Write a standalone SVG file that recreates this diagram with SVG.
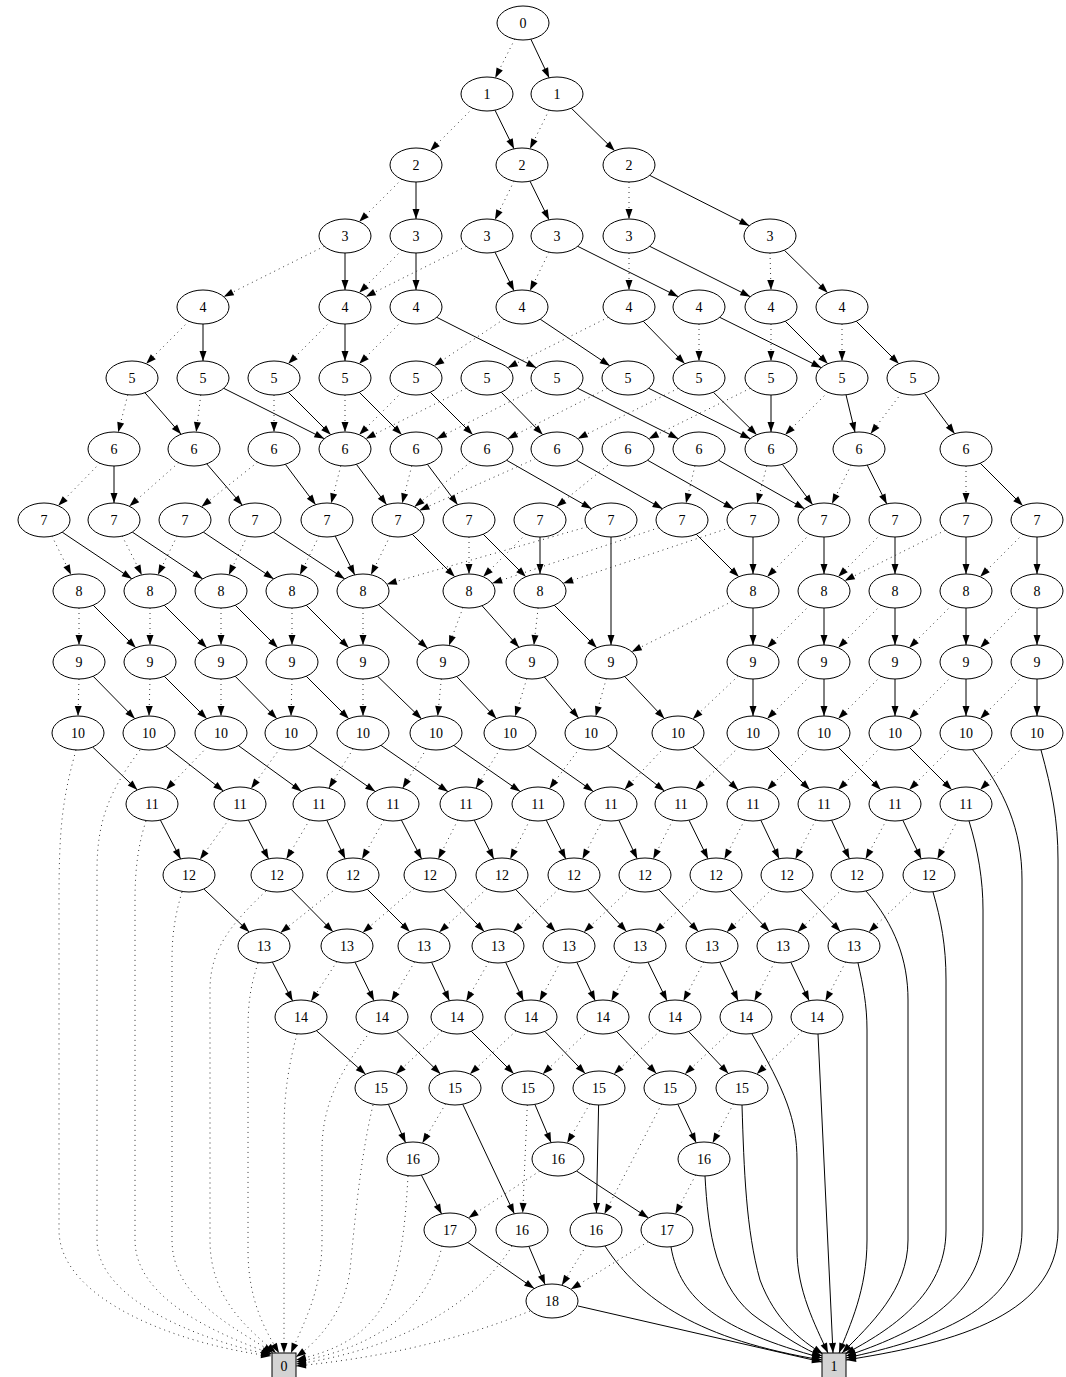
<svg xmlns="http://www.w3.org/2000/svg" width="1066" height="1377" viewBox="0 0 1066 1377">
<defs>
<marker id="a" markerWidth="10" markerHeight="7" refX="10" refY="3.5" orient="auto" markerUnits="userSpaceOnUse" overflow="visible"><path d="M0,0 L10,3.5 L0,7 z" fill="#000" stroke="none"/></marker>
<style>
.s{fill:none;stroke:#000;stroke-width:1;marker-end:url(#a)}
.d{fill:none;stroke:#333;stroke-width:1;stroke-dasharray:1 4;marker-end:url(#a)}
.n ellipse{fill:#fff;stroke:#000;stroke-width:1}
.t rect{fill:#d3d3d3;stroke:#000;stroke-width:1}
text{font-family:"Liberation Serif","Times New Roman",serif;font-size:14px;text-anchor:middle;fill:#000}
</style>
</defs>
<rect width="1066" height="1377" fill="#fff"/>
<g id="edges">
<path class="d" d="M514.8,39.1 L495.2,77.9"/>
<path class="s" d="M530.8,39.1 L549.2,77.9"/>
<path class="d" d="M472.8,108.2 L430.2,150.8"/>
<path class="s" d="M495,110.2 L514,148.8"/>
<path class="d" d="M549,110.2 L530,148.8"/>
<path class="s" d="M571.3,108.2 L614.7,150.8"/>
<path class="d" d="M401.8,179.2 L359.2,221.8"/>
<path class="s" d="M416,182 L416,219"/>
<path class="d" d="M514,181.2 L495,219.8"/>
<path class="s" d="M530,181.2 L549,219.8"/>
<path class="d" d="M629,182 L629,219"/>
<path class="s" d="M649.7,175.3 L749.3,225.7"/>
<path class="d" d="M324.3,246.3 L223.7,296.7"/>
<path class="s" d="M345,253 L345,290"/>
<path class="d" d="M401.8,250.2 L359.2,292.8"/>
<path class="s" d="M416,253 L416,290"/>
<path class="d" d="M466.3,246.3 L365.7,296.7"/>
<path class="s" d="M495,252.2 L514,290.8"/>
<path class="d" d="M549,252.2 L530,290.8"/>
<path class="s" d="M577.7,246.3 L678.3,296.7"/>
<path class="d" d="M629,253 L629,290"/>
<path class="s" d="M649.7,246.3 L750.3,296.7"/>
<path class="d" d="M770,253 L771,290"/>
<path class="s" d="M784.3,250.2 L827.7,292.8"/>
<path class="d" d="M188.8,321.2 L146.2,363.8"/>
<path class="s" d="M203,324 L203,361"/>
<path class="d" d="M330.8,321.2 L288.2,363.8"/>
<path class="s" d="M345,324 L345,361"/>
<path class="d" d="M401.8,321.2 L359.2,363.8"/>
<path class="s" d="M436.7,317.3 L536.3,367.7"/>
<path class="d" d="M503.8,319.2 L434.2,365.8"/>
<path class="s" d="M540.2,319.2 L609.8,365.8"/>
<path class="d" d="M608.3,317.3 L507.7,367.7"/>
<path class="s" d="M643.2,321.2 L684.8,363.8"/>
<path class="d" d="M699,324 L699,361"/>
<path class="s" d="M719.7,317.3 L821.3,367.7"/>
<path class="d" d="M771,324 L771,361"/>
<path class="s" d="M785.2,321.2 L827.8,363.8"/>
<path class="d" d="M842,324 L842,361"/>
<path class="s" d="M856.2,321.2 L898.8,363.8"/>
<path class="d" d="M127.8,394.8 L118.2,432.2"/>
<path class="s" d="M144.9,392.7 L181.1,434.3"/>
<path class="d" d="M200.8,395 L196.2,432"/>
<path class="s" d="M223.7,388.3 L324.3,438.7"/>
<path class="d" d="M274,395 L274,432"/>
<path class="s" d="M288.2,392.2 L330.8,434.8"/>
<path class="d" d="M345,395 L345,432"/>
<path class="s" d="M359.2,392.2 L401.8,434.8"/>
<path class="d" d="M401.8,392.2 L359.2,434.8"/>
<path class="s" d="M430.2,392.2 L472.8,434.8"/>
<path class="d" d="M466.3,388.3 L365.7,438.7"/>
<path class="s" d="M501.2,392.2 L542.8,434.8"/>
<path class="d" d="M536.3,388.3 L436.7,438.7"/>
<path class="s" d="M577.7,388.3 L678.3,438.7"/>
<path class="d" d="M607.3,388.3 L507.7,438.7"/>
<path class="s" d="M648.7,388.3 L750.3,438.7"/>
<path class="d" d="M678.3,388.3 L577.7,438.7"/>
<path class="s" d="M713.3,392.2 L756.7,434.8"/>
<path class="d" d="M750.3,388.3 L648.7,438.7"/>
<path class="s" d="M771,395 L771,432"/>
<path class="d" d="M827.8,392.2 L785.2,434.8"/>
<path class="s" d="M846,394.8 L855,432.2"/>
<path class="d" d="M901.4,393.2 L870.6,433.8"/>
<path class="s" d="M924.4,393.3 L954.6,433.7"/>
<path class="d" d="M99.8,463.2 L58.2,505.8"/>
<path class="s" d="M114,466 L114,503"/>
<path class="d" d="M178.6,462.7 L129.4,506.3"/>
<path class="s" d="M206.7,463.8 L242.3,505.2"/>
<path class="d" d="M257.5,462.2 L201.5,506.8"/>
<path class="s" d="M285.4,464.3 L315.6,504.7"/>
<path class="d" d="M340.8,465.8 L331.2,503.2"/>
<path class="s" d="M356.4,464.3 L386.6,504.7"/>
<path class="d" d="M411.8,465.8 L402.2,503.2"/>
<path class="s" d="M427.4,464.3 L457.6,504.7"/>
<path class="d" d="M470.5,462.2 L414.5,506.8"/>
<path class="s" d="M506.5,460.2 L591.5,508.8"/>
<path class="d" d="M535.6,458.6 L419.4,510.4"/>
<path class="s" d="M576.5,460.2 L662.5,508.8"/>
<path class="d" d="M611.5,462.2 L556.5,506.8"/>
<path class="s" d="M647.5,460.2 L733.5,508.8"/>
<path class="d" d="M695,465.8 L686,503.2"/>
<path class="s" d="M718.5,460.2 L804.5,508.8"/>
<path class="d" d="M766.8,465.8 L757.2,503.2"/>
<path class="s" d="M782.4,464.3 L812.6,504.7"/>
<path class="d" d="M851,465.2 L832,503.8"/>
<path class="s" d="M867.2,465.1 L886.8,503.9"/>
<path class="d" d="M966,466 L966,503"/>
<path class="s" d="M980.2,463.2 L1022.8,505.8"/>
<path class="d" d="M52,536.2 L71,574.8"/>
<path class="s" d="M62.2,532.2 L131.8,578.8"/>
<path class="d" d="M122.2,536.1 L141.8,574.9"/>
<path class="s" d="M132.3,532.1 L202.7,578.9"/>
<path class="d" d="M177,536.2 L158,574.8"/>
<path class="s" d="M203.3,532.1 L273.7,578.9"/>
<path class="d" d="M247.2,536.1 L228.8,574.9"/>
<path class="s" d="M273.3,532.1 L344.7,578.9"/>
<path class="d" d="M319,536.2 L300,574.8"/>
<path class="s" d="M335.2,536.1 L354.8,574.9"/>
<path class="d" d="M390,536.2 L371,574.8"/>
<path class="s" d="M412.2,534.2 L454.8,576.8"/>
<path class="d" d="M469,537 L469,574"/>
<path class="s" d="M483.2,534.2 L525.8,576.8"/>
<path class="s" d="M540,537 L540,574"/>
<path class="d" d="M525.8,534.2 L483.2,576.8"/>
<path class="s" d="M611,537 L611,645"/>
<path class="d" d="M587.2,526.8 L386.8,584.2"/>
<path class="s" d="M696.2,534.2 L738.8,576.8"/>
<path class="d" d="M658.8,527.7 L492.2,583.3"/>
<path class="s" d="M753,537 L753,574"/>
<path class="d" d="M729.8,527.7 L563.2,583.3"/>
<path class="d" d="M809.8,534.2 L767.2,576.8"/>
<path class="s" d="M824,537 L824,574"/>
<path class="d" d="M880.8,534.2 L838.2,576.8"/>
<path class="s" d="M895,537 L895,574"/>
<path class="d" d="M945.3,530.3 L844.7,580.7"/>
<path class="s" d="M966,537 L966,574"/>
<path class="d" d="M1022.8,534.2 L980.2,576.8"/>
<path class="s" d="M1037,537 L1037,574"/>
<path class="d" d="M79,608 L79,645"/>
<path class="s" d="M93.2,605.2 L135.8,647.8"/>
<path class="d" d="M150,608 L150,645"/>
<path class="s" d="M164.2,605.2 L206.8,647.8"/>
<path class="d" d="M221,608 L221,645"/>
<path class="s" d="M235.2,605.2 L277.8,647.8"/>
<path class="d" d="M292,608 L292,645"/>
<path class="s" d="M306.2,605.2 L348.8,647.8"/>
<path class="d" d="M363,608 L363,645"/>
<path class="s" d="M378.4,604.7 L427.6,648.3"/>
<path class="d" d="M463,607.5 L449,645.5"/>
<path class="s" d="M482,605.7 L519,647.3"/>
<path class="d" d="M538.1,608 L533.9,645"/>
<path class="s" d="M554.2,605.2 L596.8,647.8"/>
<path class="d" d="M732.3,601.3 L631.7,651.7"/>
<path class="s" d="M753,608 L753,645"/>
<path class="d" d="M809.8,605.2 L767.2,647.8"/>
<path class="s" d="M824,608 L824,645"/>
<path class="d" d="M880.8,605.2 L838.2,647.8"/>
<path class="s" d="M895,608 L895,645"/>
<path class="d" d="M951.8,605.2 L909.2,647.8"/>
<path class="s" d="M966,608 L966,645"/>
<path class="d" d="M1022.8,605.2 L980.2,647.8"/>
<path class="s" d="M1037,608 L1037,645"/>
<path class="d" d="M79,679 L78,716"/>
<path class="s" d="M93.1,676.2 L134.9,718.8"/>
<path class="d" d="M150,679 L149,716"/>
<path class="s" d="M164.2,676.2 L206.8,718.8"/>
<path class="d" d="M221,679 L221,716"/>
<path class="s" d="M235.1,676.2 L276.9,718.8"/>
<path class="d" d="M292,679 L291,716"/>
<path class="s" d="M306.2,676.2 L348.8,718.8"/>
<path class="d" d="M363,679 L363,716"/>
<path class="s" d="M377.4,676.1 L421.6,718.9"/>
<path class="d" d="M441.3,679 L437.7,716"/>
<path class="s" d="M456.6,676.4 L496.4,718.6"/>
<path class="d" d="M526.8,678.7 L515.2,716.3"/>
<path class="s" d="M544.4,677 L578.6,718"/>
<path class="d" d="M606.3,678.7 L595.7,716.3"/>
<path class="s" d="M624.6,676.4 L664.4,718.6"/>
<path class="d" d="M738.2,676 L692.8,719"/>
<path class="s" d="M753,679 L753,716"/>
<path class="d" d="M809.8,676.2 L767.2,718.8"/>
<path class="s" d="M824,679 L824,716"/>
<path class="d" d="M880.8,676.2 L838.2,718.8"/>
<path class="s" d="M895,679 L895,716"/>
<path class="d" d="M951.8,676.2 L909.2,718.8"/>
<path class="s" d="M966,679 L966,716"/>
<path class="d" d="M1022.8,676.2 L980.2,718.8"/>
<path class="s" d="M1037,679 L1037,716"/>
<path class="s" d="M92.6,747 L137.4,790"/>
<path class="s" d="M165.7,746.1 L223.3,790.9"/>
<path class="d" d="M207,747.3 L166,789.7"/>
<path class="s" d="M238.4,745.6 L301.6,791.4"/>
<path class="d" d="M279.9,748.4 L251.1,788.6"/>
<path class="s" d="M308.8,745.4 L375.2,791.6"/>
<path class="d" d="M353.2,748.8 L328.8,788.2"/>
<path class="s" d="M380.9,745.3 L448.1,791.7"/>
<path class="d" d="M426.4,748.8 L402.6,788.2"/>
<path class="s" d="M453.8,745.4 L520.2,791.6"/>
<path class="d" d="M500.2,748.8 L475.8,788.2"/>
<path class="s" d="M527.7,745.5 L593.3,791.5"/>
<path class="d" d="M579.6,748.3 L549.4,788.7"/>
<path class="s" d="M607.6,746.1 L664.4,790.9"/>
<path class="d" d="M664.4,747.4 L624.6,789.6"/>
<path class="s" d="M692.8,747 L738.2,790"/>
<path class="d" d="M738.7,747.2 L695.3,789.8"/>
<path class="s" d="M767.2,747.2 L809.8,789.8"/>
<path class="d" d="M809.8,747.2 L767.2,789.8"/>
<path class="s" d="M838.2,747.2 L880.8,789.8"/>
<path class="d" d="M880.8,747.2 L838.2,789.8"/>
<path class="s" d="M909.2,747.2 L951.8,789.8"/>
<path class="d" d="M951.8,747.2 L909.2,789.8"/>
<path class="d" d="M1022.8,747.2 L980.2,789.8"/>
<path class="s" d="M160.4,820.1 L180.6,858.9"/>
<path class="d" d="M228.9,819.4 L199.9,859.6"/>
<path class="s" d="M248.4,820.1 L268.6,858.9"/>
<path class="d" d="M309.6,819.9 L286.4,859.1"/>
<path class="s" d="M326.8,820.2 L345.2,858.8"/>
<path class="d" d="M384,820 L362,859"/>
<path class="s" d="M401.4,820.1 L421.6,858.9"/>
<path class="d" d="M457.8,820.1 L438.2,858.9"/>
<path class="s" d="M474.2,820.1 L493.8,858.9"/>
<path class="d" d="M529.8,820.1 L510.2,858.9"/>
<path class="s" d="M546.2,820.1 L565.8,858.9"/>
<path class="d" d="M602.6,820.1 L582.4,858.9"/>
<path class="s" d="M618.8,820.2 L637.2,858.8"/>
<path class="d" d="M672.8,820.1 L653.2,858.9"/>
<path class="s" d="M689,820.2 L708,858.8"/>
<path class="d" d="M744.6,820.1 L724.4,858.9"/>
<path class="s" d="M760.8,820.2 L779.2,858.8"/>
<path class="d" d="M815.6,820.1 L795.4,858.9"/>
<path class="s" d="M831.6,820.2 L849.4,858.8"/>
<path class="d" d="M886.4,820 L865.6,859"/>
<path class="s" d="M902.8,820.2 L921.2,858.8"/>
<path class="d" d="M957.6,820.1 L937.4,858.9"/>
<path class="s" d="M203.8,889 L249.2,932"/>
<path class="s" d="M291,889.2 L333,931.8"/>
<path class="d" d="M336.5,888.2 L280.5,932.8"/>
<path class="s" d="M367.2,889.2 L409.8,931.8"/>
<path class="d" d="M414.2,888.5 L362.8,932.5"/>
<path class="s" d="M443.8,889.4 L484.2,931.6"/>
<path class="d" d="M486.8,888.8 L439.2,932.2"/>
<path class="s" d="M515.6,889.4 L555.4,931.6"/>
<path class="d" d="M559,888.9 L513,932.1"/>
<path class="s" d="M587.5,889.5 L626.5,931.5"/>
<path class="d" d="M630,888.9 L584,932.1"/>
<path class="s" d="M658.6,889.4 L698.4,931.6"/>
<path class="d" d="M701,888.9 L655,932.1"/>
<path class="s" d="M729.6,889.4 L769.4,931.6"/>
<path class="d" d="M772.2,889 L726.8,932"/>
<path class="s" d="M800.6,889.4 L840.4,931.6"/>
<path class="d" d="M842.4,889 L797.6,932"/>
<path class="d" d="M914.2,889 L868.8,932"/>
<path class="s" d="M272.4,962.1 L292.6,1000.9"/>
<path class="d" d="M336.9,961.7 L311.1,1001.3"/>
<path class="s" d="M355,962.2 L374,1000.8"/>
<path class="d" d="M414.6,961.9 L391.4,1001.1"/>
<path class="s" d="M431.6,962.2 L449.4,1000.8"/>
<path class="d" d="M488.8,961.8 L466.2,1001.2"/>
<path class="s" d="M505.6,962.2 L523.4,1000.8"/>
<path class="d" d="M560.4,962 L539.6,1001"/>
<path class="s" d="M576.8,962.2 L595.2,1000.8"/>
<path class="d" d="M631.6,962.1 L611.4,1000.9"/>
<path class="s" d="M648,962.2 L667,1000.8"/>
<path class="d" d="M703.6,962.1 L683.4,1000.9"/>
<path class="s" d="M719.8,962.2 L738.2,1000.8"/>
<path class="d" d="M774.6,962.1 L754.4,1000.9"/>
<path class="s" d="M790.8,962.2 L809.2,1000.8"/>
<path class="d" d="M845.6,962.1 L825.4,1000.9"/>
<path class="s" d="M316.4,1030.7 L365.6,1074.3"/>
<path class="s" d="M396.5,1031.1 L440.5,1073.9"/>
<path class="d" d="M442,1030.9 L396,1074.1"/>
<path class="s" d="M471.2,1031.2 L513.8,1073.8"/>
<path class="d" d="M516,1030.9 L470,1074.1"/>
<path class="s" d="M544.8,1031.4 L585.2,1073.6"/>
<path class="d" d="M588.2,1031 L542.8,1074"/>
<path class="s" d="M616.6,1031.4 L656.4,1073.6"/>
<path class="d" d="M660,1030.9 L614,1074.1"/>
<path class="s" d="M688.6,1031.4 L728.4,1073.6"/>
<path class="d" d="M731,1030.9 L685,1074.1"/>
<path class="d" d="M802.2,1031 L756.8,1074"/>
<path class="s" d="M388.4,1104.3 L405.6,1142.7"/>
<path class="d" d="M445.6,1103.9 L422.4,1143.1"/>
<path class="s" d="M462.7,1104.2 L514.3,1213.8"/>
<path class="d" d="M527.3,1105 L522.7,1213"/>
<path class="s" d="M534.9,1104.4 L551.1,1142.6"/>
<path class="d" d="M589.8,1103.9 L567.2,1143.1"/>
<path class="s" d="M598.6,1105 L596.4,1213"/>
<path class="s" d="M677.8,1104.2 L696.2,1142.8"/>
<path class="d" d="M661.6,1104.1 L604.4,1213.9"/>
<path class="d" d="M733.4,1104 L712.6,1143"/>
<path class="s" d="M421.4,1175.1 L441.6,1213.9"/>
<path class="d" d="M539.6,1171.1 L468.4,1217.9"/>
<path class="s" d="M576.5,1171 L648.5,1218"/>
<path class="d" d="M695.6,1175.1 L675.4,1213.9"/>
<path class="s" d="M467.8,1242.4 L534.2,1288.6"/>
<path class="s" d="M528.9,1246.4 L545.1,1284.6"/>
<path class="d" d="M586.2,1245.8 L561.8,1285.2"/>
<path class="d" d="M648.1,1241.7 L570.9,1289.3"/>
<path class="d" d="M76,750 C62,800 59,830 59,900 L59,1230 C59,1300 180,1345 271,1356"/>
<path class="d" d="M140,750 C110,790 97,820 97,870 L97,1240 C97,1300 200,1340 271,1355"/>
<path class="d" d="M146,821 C138,845 135,870 135,900 L135,1240 C135,1300 220,1335 272,1354"/>
<path class="d" d="M182,892 C175,915 172,935 172,960 L172,1240 C172,1300 240,1330 273,1353"/>
<path class="d" d="M266,891 C230,925 210,950 210,990 L210,1240 C210,1300 250,1330 276,1353"/>
<path class="d" d="M258,963 C251,985 248,1000 248,1030 L248,1250 C248,1300 265,1330 279,1353"/>
<path class="d" d="M297,1034 C290,1060 284,1090 284,1130 L284,1353"/>
<path class="d" d="M370,1032 C345,1065 322,1100 322,1150 L322,1240 C322,1290 305,1320 291,1353"/>
<path class="d" d="M373,1105 C360,1160 355,1220 350,1270 C345,1310 320,1340 296,1357"/>
<path class="d" d="M408,1176 C405,1230 400,1280 380,1310 C360,1340 330,1352 296,1360"/>
<path class="d" d="M442,1246 C430,1300 390,1345 296,1362"/>
<path class="d" d="M512,1246 C480,1300 400,1350 296,1364"/>
<path class="d" d="M530,1311 C460,1340 380,1358 296,1366"/>
<path class="s" d="M1041,750 C1052,790 1058,820 1058,860 L1058,1230 C1058,1320 940,1345 846,1360"/>
<path class="s" d="M972,749 C1005,790 1022,830 1022,880 L1022,1230 C1022,1310 930,1340 846,1358"/>
<path class="s" d="M969,821 C978,850 983,880 983,910 L983,1230 C983,1300 910,1335 846,1356"/>
<path class="s" d="M933,892 C941,920 946,945 946,980 L946,1230 C946,1295 890,1330 845,1354"/>
<path class="s" d="M866,891 C895,925 908,960 908,1000 L908,1240 C908,1290 870,1325 842,1353"/>
<path class="s" d="M858,963 C863,985 867,1005 867,1030 L867,1240 C867,1290 850,1325 839,1353"/>
<path class="s" d="M818,1034 L833,1353"/>
<path class="s" d="M752,1034 C785,1090 797,1120 797,1160 L797,1250 C797,1290 815,1325 828,1353"/>
<path class="s" d="M742,1105 C744,1170 746,1230 760,1280 C775,1320 800,1340 823,1354"/>
<path class="s" d="M705,1176 C708,1230 715,1290 760,1320 C785,1337 805,1350 822,1356"/>
<path class="s" d="M671,1247 C680,1300 720,1330 822,1358"/>
<path class="s" d="M605,1246 C640,1300 700,1340 822,1360"/>
<path class="s" d="M578,1306 L822,1362"/>
</g>
<g id="r0_0" class="n"><ellipse cx="523" cy="23" rx="26" ry="17"/><text x="523" y="28">0</text></g>
<g id="r1_0" class="n"><ellipse cx="487" cy="94" rx="26" ry="17"/><text x="487" y="99">1</text></g>
<g id="r1_1" class="n"><ellipse cx="557" cy="94" rx="26" ry="17"/><text x="557" y="99">1</text></g>
<g id="r2_0" class="n"><ellipse cx="416" cy="165" rx="26" ry="17"/><text x="416" y="170">2</text></g>
<g id="r2_1" class="n"><ellipse cx="522" cy="165" rx="26" ry="17"/><text x="522" y="170">2</text></g>
<g id="r2_2" class="n"><ellipse cx="629" cy="165" rx="26" ry="17"/><text x="629" y="170">2</text></g>
<g id="r3_0" class="n"><ellipse cx="345" cy="236" rx="26" ry="17"/><text x="345" y="241">3</text></g>
<g id="r3_1" class="n"><ellipse cx="416" cy="236" rx="26" ry="17"/><text x="416" y="241">3</text></g>
<g id="r3_2" class="n"><ellipse cx="487" cy="236" rx="26" ry="17"/><text x="487" y="241">3</text></g>
<g id="r3_3" class="n"><ellipse cx="557" cy="236" rx="26" ry="17"/><text x="557" y="241">3</text></g>
<g id="r3_4" class="n"><ellipse cx="629" cy="236" rx="26" ry="17"/><text x="629" y="241">3</text></g>
<g id="r3_5" class="n"><ellipse cx="770" cy="236" rx="26" ry="17"/><text x="770" y="241">3</text></g>
<g id="r4_0" class="n"><ellipse cx="203" cy="307" rx="26" ry="17"/><text x="203" y="312">4</text></g>
<g id="r4_1" class="n"><ellipse cx="345" cy="307" rx="26" ry="17"/><text x="345" y="312">4</text></g>
<g id="r4_2" class="n"><ellipse cx="416" cy="307" rx="26" ry="17"/><text x="416" y="312">4</text></g>
<g id="r4_3" class="n"><ellipse cx="522" cy="307" rx="26" ry="17"/><text x="522" y="312">4</text></g>
<g id="r4_4" class="n"><ellipse cx="629" cy="307" rx="26" ry="17"/><text x="629" y="312">4</text></g>
<g id="r4_5" class="n"><ellipse cx="699" cy="307" rx="26" ry="17"/><text x="699" y="312">4</text></g>
<g id="r4_6" class="n"><ellipse cx="771" cy="307" rx="26" ry="17"/><text x="771" y="312">4</text></g>
<g id="r4_7" class="n"><ellipse cx="842" cy="307" rx="26" ry="17"/><text x="842" y="312">4</text></g>
<g id="r5_0" class="n"><ellipse cx="132" cy="378" rx="26" ry="17"/><text x="132" y="383">5</text></g>
<g id="r5_1" class="n"><ellipse cx="203" cy="378" rx="26" ry="17"/><text x="203" y="383">5</text></g>
<g id="r5_2" class="n"><ellipse cx="274" cy="378" rx="26" ry="17"/><text x="274" y="383">5</text></g>
<g id="r5_3" class="n"><ellipse cx="345" cy="378" rx="26" ry="17"/><text x="345" y="383">5</text></g>
<g id="r5_4" class="n"><ellipse cx="416" cy="378" rx="26" ry="17"/><text x="416" y="383">5</text></g>
<g id="r5_5" class="n"><ellipse cx="487" cy="378" rx="26" ry="17"/><text x="487" y="383">5</text></g>
<g id="r5_6" class="n"><ellipse cx="557" cy="378" rx="26" ry="17"/><text x="557" y="383">5</text></g>
<g id="r5_7" class="n"><ellipse cx="628" cy="378" rx="26" ry="17"/><text x="628" y="383">5</text></g>
<g id="r5_8" class="n"><ellipse cx="699" cy="378" rx="26" ry="17"/><text x="699" y="383">5</text></g>
<g id="r5_9" class="n"><ellipse cx="771" cy="378" rx="26" ry="17"/><text x="771" y="383">5</text></g>
<g id="r5_10" class="n"><ellipse cx="842" cy="378" rx="26" ry="17"/><text x="842" y="383">5</text></g>
<g id="r5_11" class="n"><ellipse cx="913" cy="378" rx="26" ry="17"/><text x="913" y="383">5</text></g>
<g id="r6_0" class="n"><ellipse cx="114" cy="449" rx="26" ry="17"/><text x="114" y="454">6</text></g>
<g id="r6_1" class="n"><ellipse cx="194" cy="449" rx="26" ry="17"/><text x="194" y="454">6</text></g>
<g id="r6_2" class="n"><ellipse cx="274" cy="449" rx="26" ry="17"/><text x="274" y="454">6</text></g>
<g id="r6_3" class="n"><ellipse cx="345" cy="449" rx="26" ry="17"/><text x="345" y="454">6</text></g>
<g id="r6_4" class="n"><ellipse cx="416" cy="449" rx="26" ry="17"/><text x="416" y="454">6</text></g>
<g id="r6_5" class="n"><ellipse cx="487" cy="449" rx="26" ry="17"/><text x="487" y="454">6</text></g>
<g id="r6_6" class="n"><ellipse cx="557" cy="449" rx="26" ry="17"/><text x="557" y="454">6</text></g>
<g id="r6_7" class="n"><ellipse cx="628" cy="449" rx="26" ry="17"/><text x="628" y="454">6</text></g>
<g id="r6_8" class="n"><ellipse cx="699" cy="449" rx="26" ry="17"/><text x="699" y="454">6</text></g>
<g id="r6_9" class="n"><ellipse cx="771" cy="449" rx="26" ry="17"/><text x="771" y="454">6</text></g>
<g id="r6_10" class="n"><ellipse cx="859" cy="449" rx="26" ry="17"/><text x="859" y="454">6</text></g>
<g id="r6_11" class="n"><ellipse cx="966" cy="449" rx="26" ry="17"/><text x="966" y="454">6</text></g>
<g id="r7_0" class="n"><ellipse cx="44" cy="520" rx="26" ry="17"/><text x="44" y="525">7</text></g>
<g id="r7_1" class="n"><ellipse cx="114" cy="520" rx="26" ry="17"/><text x="114" y="525">7</text></g>
<g id="r7_2" class="n"><ellipse cx="185" cy="520" rx="26" ry="17"/><text x="185" y="525">7</text></g>
<g id="r7_3" class="n"><ellipse cx="255" cy="520" rx="26" ry="17"/><text x="255" y="525">7</text></g>
<g id="r7_4" class="n"><ellipse cx="327" cy="520" rx="26" ry="17"/><text x="327" y="525">7</text></g>
<g id="r7_5" class="n"><ellipse cx="398" cy="520" rx="26" ry="17"/><text x="398" y="525">7</text></g>
<g id="r7_6" class="n"><ellipse cx="469" cy="520" rx="26" ry="17"/><text x="469" y="525">7</text></g>
<g id="r7_7" class="n"><ellipse cx="540" cy="520" rx="26" ry="17"/><text x="540" y="525">7</text></g>
<g id="r7_8" class="n"><ellipse cx="611" cy="520" rx="26" ry="17"/><text x="611" y="525">7</text></g>
<g id="r7_9" class="n"><ellipse cx="682" cy="520" rx="26" ry="17"/><text x="682" y="525">7</text></g>
<g id="r7_10" class="n"><ellipse cx="753" cy="520" rx="26" ry="17"/><text x="753" y="525">7</text></g>
<g id="r7_11" class="n"><ellipse cx="824" cy="520" rx="26" ry="17"/><text x="824" y="525">7</text></g>
<g id="r7_12" class="n"><ellipse cx="895" cy="520" rx="26" ry="17"/><text x="895" y="525">7</text></g>
<g id="r7_13" class="n"><ellipse cx="966" cy="520" rx="26" ry="17"/><text x="966" y="525">7</text></g>
<g id="r7_14" class="n"><ellipse cx="1037" cy="520" rx="26" ry="17"/><text x="1037" y="525">7</text></g>
<g id="r8_0" class="n"><ellipse cx="79" cy="591" rx="26" ry="17"/><text x="79" y="596">8</text></g>
<g id="r8_1" class="n"><ellipse cx="150" cy="591" rx="26" ry="17"/><text x="150" y="596">8</text></g>
<g id="r8_2" class="n"><ellipse cx="221" cy="591" rx="26" ry="17"/><text x="221" y="596">8</text></g>
<g id="r8_3" class="n"><ellipse cx="292" cy="591" rx="26" ry="17"/><text x="292" y="596">8</text></g>
<g id="r8_4" class="n"><ellipse cx="363" cy="591" rx="26" ry="17"/><text x="363" y="596">8</text></g>
<g id="r8_5" class="n"><ellipse cx="469" cy="591" rx="26" ry="17"/><text x="469" y="596">8</text></g>
<g id="r8_6" class="n"><ellipse cx="540" cy="591" rx="26" ry="17"/><text x="540" y="596">8</text></g>
<g id="r8_7" class="n"><ellipse cx="753" cy="591" rx="26" ry="17"/><text x="753" y="596">8</text></g>
<g id="r8_8" class="n"><ellipse cx="824" cy="591" rx="26" ry="17"/><text x="824" y="596">8</text></g>
<g id="r8_9" class="n"><ellipse cx="895" cy="591" rx="26" ry="17"/><text x="895" y="596">8</text></g>
<g id="r8_10" class="n"><ellipse cx="966" cy="591" rx="26" ry="17"/><text x="966" y="596">8</text></g>
<g id="r8_11" class="n"><ellipse cx="1037" cy="591" rx="26" ry="17"/><text x="1037" y="596">8</text></g>
<g id="r9_0" class="n"><ellipse cx="79" cy="662" rx="26" ry="17"/><text x="79" y="667">9</text></g>
<g id="r9_1" class="n"><ellipse cx="150" cy="662" rx="26" ry="17"/><text x="150" y="667">9</text></g>
<g id="r9_2" class="n"><ellipse cx="221" cy="662" rx="26" ry="17"/><text x="221" y="667">9</text></g>
<g id="r9_3" class="n"><ellipse cx="292" cy="662" rx="26" ry="17"/><text x="292" y="667">9</text></g>
<g id="r9_4" class="n"><ellipse cx="363" cy="662" rx="26" ry="17"/><text x="363" y="667">9</text></g>
<g id="r9_5" class="n"><ellipse cx="443" cy="662" rx="26" ry="17"/><text x="443" y="667">9</text></g>
<g id="r9_6" class="n"><ellipse cx="532" cy="662" rx="26" ry="17"/><text x="532" y="667">9</text></g>
<g id="r9_7" class="n"><ellipse cx="611" cy="662" rx="26" ry="17"/><text x="611" y="667">9</text></g>
<g id="r9_8" class="n"><ellipse cx="753" cy="662" rx="26" ry="17"/><text x="753" y="667">9</text></g>
<g id="r9_9" class="n"><ellipse cx="824" cy="662" rx="26" ry="17"/><text x="824" y="667">9</text></g>
<g id="r9_10" class="n"><ellipse cx="895" cy="662" rx="26" ry="17"/><text x="895" y="667">9</text></g>
<g id="r9_11" class="n"><ellipse cx="966" cy="662" rx="26" ry="17"/><text x="966" y="667">9</text></g>
<g id="r9_12" class="n"><ellipse cx="1037" cy="662" rx="26" ry="17"/><text x="1037" y="667">9</text></g>
<g id="r10_0" class="n"><ellipse cx="78" cy="733" rx="26" ry="17"/><text x="78" y="738">10</text></g>
<g id="r10_1" class="n"><ellipse cx="149" cy="733" rx="26" ry="17"/><text x="149" y="738">10</text></g>
<g id="r10_2" class="n"><ellipse cx="221" cy="733" rx="26" ry="17"/><text x="221" y="738">10</text></g>
<g id="r10_3" class="n"><ellipse cx="291" cy="733" rx="26" ry="17"/><text x="291" y="738">10</text></g>
<g id="r10_4" class="n"><ellipse cx="363" cy="733" rx="26" ry="17"/><text x="363" y="738">10</text></g>
<g id="r10_5" class="n"><ellipse cx="436" cy="733" rx="26" ry="17"/><text x="436" y="738">10</text></g>
<g id="r10_6" class="n"><ellipse cx="510" cy="733" rx="26" ry="17"/><text x="510" y="738">10</text></g>
<g id="r10_7" class="n"><ellipse cx="591" cy="733" rx="26" ry="17"/><text x="591" y="738">10</text></g>
<g id="r10_8" class="n"><ellipse cx="678" cy="733" rx="26" ry="17"/><text x="678" y="738">10</text></g>
<g id="r10_9" class="n"><ellipse cx="753" cy="733" rx="26" ry="17"/><text x="753" y="738">10</text></g>
<g id="r10_10" class="n"><ellipse cx="824" cy="733" rx="26" ry="17"/><text x="824" y="738">10</text></g>
<g id="r10_11" class="n"><ellipse cx="895" cy="733" rx="26" ry="17"/><text x="895" y="738">10</text></g>
<g id="r10_12" class="n"><ellipse cx="966" cy="733" rx="26" ry="17"/><text x="966" y="738">10</text></g>
<g id="r10_13" class="n"><ellipse cx="1037" cy="733" rx="26" ry="17"/><text x="1037" y="738">10</text></g>
<g id="r11_0" class="n"><ellipse cx="152" cy="804" rx="26" ry="17"/><text x="152" y="809">11</text></g>
<g id="r11_1" class="n"><ellipse cx="240" cy="804" rx="26" ry="17"/><text x="240" y="809">11</text></g>
<g id="r11_2" class="n"><ellipse cx="319" cy="804" rx="26" ry="17"/><text x="319" y="809">11</text></g>
<g id="r11_3" class="n"><ellipse cx="393" cy="804" rx="26" ry="17"/><text x="393" y="809">11</text></g>
<g id="r11_4" class="n"><ellipse cx="466" cy="804" rx="26" ry="17"/><text x="466" y="809">11</text></g>
<g id="r11_5" class="n"><ellipse cx="538" cy="804" rx="26" ry="17"/><text x="538" y="809">11</text></g>
<g id="r11_6" class="n"><ellipse cx="611" cy="804" rx="26" ry="17"/><text x="611" y="809">11</text></g>
<g id="r11_7" class="n"><ellipse cx="681" cy="804" rx="26" ry="17"/><text x="681" y="809">11</text></g>
<g id="r11_8" class="n"><ellipse cx="753" cy="804" rx="26" ry="17"/><text x="753" y="809">11</text></g>
<g id="r11_9" class="n"><ellipse cx="824" cy="804" rx="26" ry="17"/><text x="824" y="809">11</text></g>
<g id="r11_10" class="n"><ellipse cx="895" cy="804" rx="26" ry="17"/><text x="895" y="809">11</text></g>
<g id="r11_11" class="n"><ellipse cx="966" cy="804" rx="26" ry="17"/><text x="966" y="809">11</text></g>
<g id="r12_0" class="n"><ellipse cx="189" cy="875" rx="26" ry="17"/><text x="189" y="880">12</text></g>
<g id="r12_1" class="n"><ellipse cx="277" cy="875" rx="26" ry="17"/><text x="277" y="880">12</text></g>
<g id="r12_2" class="n"><ellipse cx="353" cy="875" rx="26" ry="17"/><text x="353" y="880">12</text></g>
<g id="r12_3" class="n"><ellipse cx="430" cy="875" rx="26" ry="17"/><text x="430" y="880">12</text></g>
<g id="r12_4" class="n"><ellipse cx="502" cy="875" rx="26" ry="17"/><text x="502" y="880">12</text></g>
<g id="r12_5" class="n"><ellipse cx="574" cy="875" rx="26" ry="17"/><text x="574" y="880">12</text></g>
<g id="r12_6" class="n"><ellipse cx="645" cy="875" rx="26" ry="17"/><text x="645" y="880">12</text></g>
<g id="r12_7" class="n"><ellipse cx="716" cy="875" rx="26" ry="17"/><text x="716" y="880">12</text></g>
<g id="r12_8" class="n"><ellipse cx="787" cy="875" rx="26" ry="17"/><text x="787" y="880">12</text></g>
<g id="r12_9" class="n"><ellipse cx="857" cy="875" rx="26" ry="17"/><text x="857" y="880">12</text></g>
<g id="r12_10" class="n"><ellipse cx="929" cy="875" rx="26" ry="17"/><text x="929" y="880">12</text></g>
<g id="r13_0" class="n"><ellipse cx="264" cy="946" rx="26" ry="17"/><text x="264" y="951">13</text></g>
<g id="r13_1" class="n"><ellipse cx="347" cy="946" rx="26" ry="17"/><text x="347" y="951">13</text></g>
<g id="r13_2" class="n"><ellipse cx="424" cy="946" rx="26" ry="17"/><text x="424" y="951">13</text></g>
<g id="r13_3" class="n"><ellipse cx="498" cy="946" rx="26" ry="17"/><text x="498" y="951">13</text></g>
<g id="r13_4" class="n"><ellipse cx="569" cy="946" rx="26" ry="17"/><text x="569" y="951">13</text></g>
<g id="r13_5" class="n"><ellipse cx="640" cy="946" rx="26" ry="17"/><text x="640" y="951">13</text></g>
<g id="r13_6" class="n"><ellipse cx="712" cy="946" rx="26" ry="17"/><text x="712" y="951">13</text></g>
<g id="r13_7" class="n"><ellipse cx="783" cy="946" rx="26" ry="17"/><text x="783" y="951">13</text></g>
<g id="r13_8" class="n"><ellipse cx="854" cy="946" rx="26" ry="17"/><text x="854" y="951">13</text></g>
<g id="r14_0" class="n"><ellipse cx="301" cy="1017" rx="26" ry="17"/><text x="301" y="1022">14</text></g>
<g id="r14_1" class="n"><ellipse cx="382" cy="1017" rx="26" ry="17"/><text x="382" y="1022">14</text></g>
<g id="r14_2" class="n"><ellipse cx="457" cy="1017" rx="26" ry="17"/><text x="457" y="1022">14</text></g>
<g id="r14_3" class="n"><ellipse cx="531" cy="1017" rx="26" ry="17"/><text x="531" y="1022">14</text></g>
<g id="r14_4" class="n"><ellipse cx="603" cy="1017" rx="26" ry="17"/><text x="603" y="1022">14</text></g>
<g id="r14_5" class="n"><ellipse cx="675" cy="1017" rx="26" ry="17"/><text x="675" y="1022">14</text></g>
<g id="r14_6" class="n"><ellipse cx="746" cy="1017" rx="26" ry="17"/><text x="746" y="1022">14</text></g>
<g id="r14_7" class="n"><ellipse cx="817" cy="1017" rx="26" ry="17"/><text x="817" y="1022">14</text></g>
<g id="r15_0" class="n"><ellipse cx="381" cy="1088" rx="26" ry="17"/><text x="381" y="1093">15</text></g>
<g id="r15_1" class="n"><ellipse cx="455" cy="1088" rx="26" ry="17"/><text x="455" y="1093">15</text></g>
<g id="r15_2" class="n"><ellipse cx="528" cy="1088" rx="26" ry="17"/><text x="528" y="1093">15</text></g>
<g id="r15_3" class="n"><ellipse cx="599" cy="1088" rx="26" ry="17"/><text x="599" y="1093">15</text></g>
<g id="r15_4" class="n"><ellipse cx="670" cy="1088" rx="26" ry="17"/><text x="670" y="1093">15</text></g>
<g id="r15_5" class="n"><ellipse cx="742" cy="1088" rx="26" ry="17"/><text x="742" y="1093">15</text></g>
<g id="r16_0" class="n"><ellipse cx="413" cy="1159" rx="26" ry="17"/><text x="413" y="1164">16</text></g>
<g id="r16_1" class="n"><ellipse cx="558" cy="1159" rx="26" ry="17"/><text x="558" y="1164">16</text></g>
<g id="r16_2" class="n"><ellipse cx="704" cy="1159" rx="26" ry="17"/><text x="704" y="1164">16</text></g>
<g id="r17_0" class="n"><ellipse cx="450" cy="1230" rx="26" ry="17"/><text x="450" y="1235">17</text></g>
<g id="r17_1" class="n"><ellipse cx="522" cy="1230" rx="26" ry="17"/><text x="522" y="1235">16</text></g>
<g id="r17_2" class="n"><ellipse cx="596" cy="1230" rx="26" ry="17"/><text x="596" y="1235">16</text></g>
<g id="r17_3" class="n"><ellipse cx="667" cy="1230" rx="26" ry="17"/><text x="667" y="1235">17</text></g>
<g id="r18_0" class="n"><ellipse cx="552" cy="1301" rx="26" ry="17"/><text x="552" y="1306">18</text></g>
<g id="term0" class="t"><rect x="272" y="1353" width="24" height="34"/><text x="284" y="1371">0</text></g>
<g id="term1" class="t"><rect x="822" y="1353" width="24" height="34"/><text x="834" y="1371">1</text></g>
</svg>
